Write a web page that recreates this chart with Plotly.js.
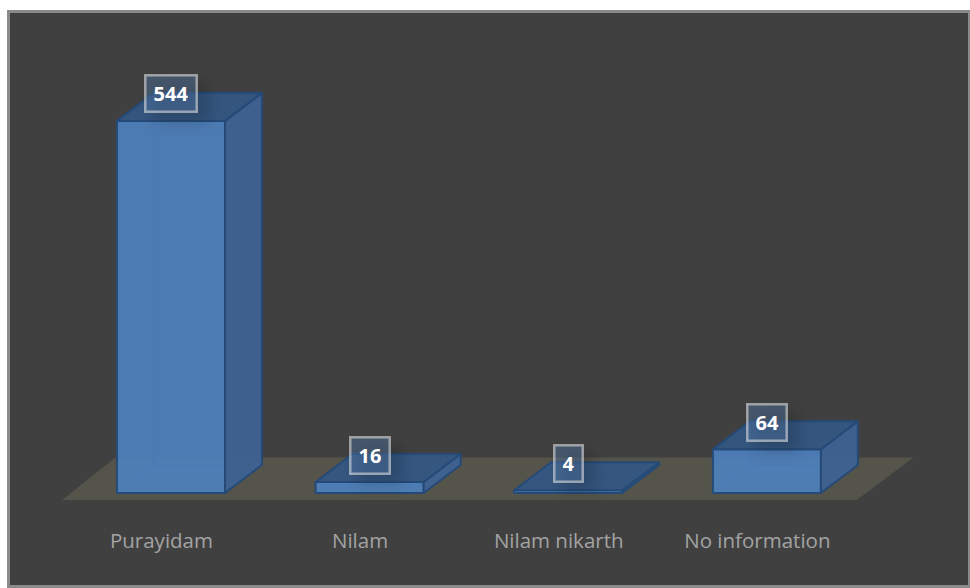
<!DOCTYPE html>
<html>
<head>
<meta charset="utf-8">
<script src="https://cdn.plot.ly/plotly-3.0.1.min.js"></script>
<style>
  html, body { margin: 0; padding: 0; background: #fff; overflow: hidden; }
  #frame { position: absolute; left: 7px; top: 10px; border: 3px solid #8a8a8a; width: 958px; height: 572px; background: #404040; }
  #chart { width: 958px; height: 572px; }
  .annotation-text-g rect { filter: drop-shadow(10px 9px 7px rgba(0,0,0,0.32)); }
</style>
</head>
<body>
<div id="frame"><div id="chart"></div></div>
<script>
// Land type counts
const categories = ['Purayidam', 'Nilam', 'Nilam nikarth', 'No information'];
const counts = [544, 16, 4, 64];

// Pseudo-3D box proportions, in axis units
const barWidth = 0.544;
const barShift = 0.048;
const depthX = 0.186;
const depthY = 41;

const frontColor = 'rgba(78,128,188,0.93)';
const sideColor = 'rgba(62,98,146,0.95)';
const topColor = 'rgba(52,86,130,0.95)';
const edgeColor = '#254a77';
const faintEdge = 'rgba(70,118,178,0.55)';

const idx = categories.map((_, i) => i);

const front = {
  type: 'bar', x: idx, y: counts, width: barWidth,
  offset: barShift - barWidth / 2,
  marker: { color: frontColor, line: { color: edgeColor, width: 2 } },
  hoverinfo: 'skip', showlegend: false
};

function face(xs, ys, fill) {
  return {
    type: 'scatter', mode: 'lines', x: xs, y: ys, fill: 'toself', fillcolor: fill,
    line: { color: edgeColor, width: 2 }, hoverinfo: 'skip', showlegend: false
  };
}

const traces = [front];
counts.forEach((v, i) => {
  const x0 = i + barShift - barWidth / 2;
  const x1 = x0 + barWidth;
  // edges at the back of the box, seen through the front face
  traces.push({
    type: 'scatter', mode: 'lines',
    x: [x0, x0 + depthX, x0 + depthX, null, x0 + depthX, x1],
    y: [0, depthY, v + depthY, null, depthY, depthY],
    line: { color: faintEdge, width: 1 }, hoverinfo: 'skip', showlegend: false
  });
  traces.push(face([x1, x1 + depthX, x1 + depthX, x1, x1], [0, depthY, v + depthY, v, 0], sideColor));
  traces.push(face([x0, x1, x1 + depthX, x0 + depthX, x0], [v, v, v + depthY, v + depthY, v], topColor));
});

const labels = counts.map((v, i) => ({
  x: i + barShift, y: v, yshift: 27, text: String(v), showarrow: false,
  font: { family: '"Noto Sans", sans-serif', size: 20, color: '#ffffff', weight: 700 },
  bgcolor: 'rgba(80,115,160,0.45)', bordercolor: 'rgba(225,225,225,0.58)', borderwidth: 2.5,
  borderpad: 7, height: 20, valign: 'middle'
}));

// Floor plane under the bars, one category wider on each side of the range
const fl = { front: [-0.5, 3.5], back: [-0.232, 3.786], low: -10.2, high: 52 };
const floorPath = `M ${fl.front[0]} ${fl.low} L ${fl.front[1]} ${fl.low} L ${fl.back[1]} ${fl.high} L ${fl.back[0]} ${fl.high} Z`;

const layout = {
  width: 958, height: 572,
  margin: { l: 0, r: 0, t: 0, b: 60 },
  paper_bgcolor: '#404040', plot_bgcolor: '#404040',
  showlegend: false, bargap: 0,
  xaxis: {
    type: 'linear', range: [-0.7625, 4.0605], tickmode: 'array', tickvals: idx, ticktext: categories,
    showgrid: false, zeroline: false, showline: false, ticks: '', fixedrange: true, ticklabelstandoff: 1,
    tickfont: { family: '"Open Sans", sans-serif', size: 20.5, color: '#a3a3a3' }
  },
  yaxis: { type: 'linear', range: [-46.8, 701.75], visible: false, fixedrange: true },
  shapes: [{ type: 'path', path: floorPath, xref: 'x', yref: 'y', layer: 'below', fillcolor: '#55544b', line: { width: 0 } }],
  annotations: labels
};

Plotly.newPlot('chart', traces, layout, { displayModeBar: false, staticPlot: true });
</script>
</body>
</html>
